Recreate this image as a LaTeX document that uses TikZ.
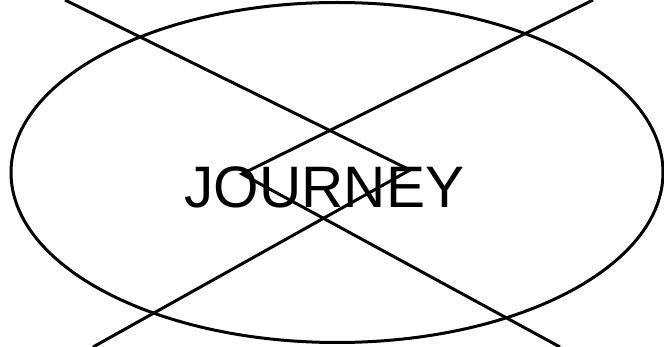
\documentclass[tikz,border=0pt]{standalone}
\usepackage{fontspec}
\setmainfont{Liberation Sans}
\usetikzlibrary{shapes.geometric}

\begin{document}
\begin{tikzpicture}[x=1pt,y=-1pt,
    outline/.style={draw=black,line width=3pt},
    wedge/.style={draw=black,line width=3pt,line join=miter}]
    \useasboundingbox (0,0) rectangle (664,347);
    \node[ellipse,outline,minimum width=652pt,minimum height=340pt,inner sep=0pt] (journeyshape) at (337,172.5) {};
    \node[anchor=base,font=\fontsize{58.5}{70}\selectfont,inner sep=0pt] (journeylabel) at (324.5,208) {JOURNEY};
    % free ends of the two wedges
    \foreach \name/\x/\y in {topleft/65/0,topright/593/0,bottomleft/93/347,bottomright/560/347,lefttip/242/174,righttip/410/170}{
        \coordinate (\name) at (\x,\y);
    }
    \draw[wedge] (topleft) -- (righttip) -- (bottomleft);
    \draw[wedge] (topright) -- (lefttip) -- (bottomright);
\end{tikzpicture}
\end{document}
